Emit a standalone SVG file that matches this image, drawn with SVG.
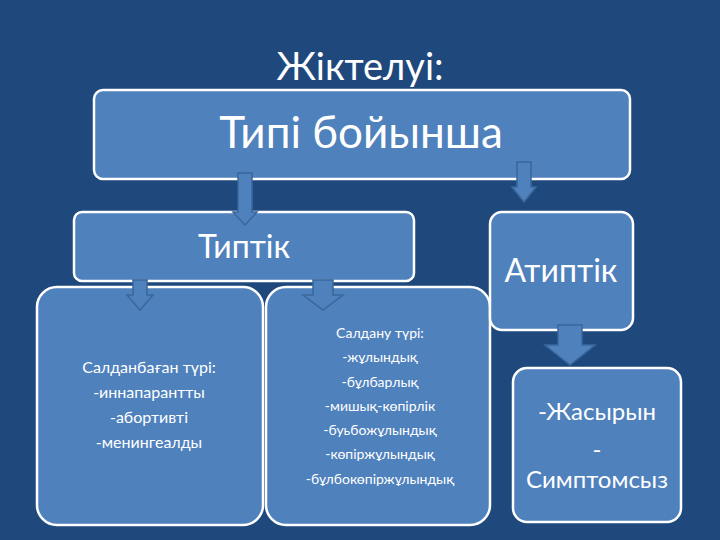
<svg xmlns="http://www.w3.org/2000/svg" width="720" height="540" viewBox="0 0 720 540">
<defs>
<style>
.bg{fill:#1f497d}
.box{fill:#4f81bd;stroke:#ffffff;stroke-width:2.5}
.arr{fill:#4f81bd;stroke:#3a679c;stroke-width:1.5;stroke-linejoin:miter}
text{font-family:Lato,"Liberation Sans","DejaVu Sans",sans-serif;fill:#ffffff;text-anchor:middle}
.t1{font-size:38px}
.t2{font-size:44px}
.t3{font-size:32px}
.t4{font-size:16px}
.t5{font-size:14px}
.t6{font-size:24px}
</style>
</defs>
<rect class="bg" x="0" y="0" width="720" height="540"/>
<text class="t1" x="360" y="80">Жіктелуі:</text>
<g id="node-top">
<rect class="box" x="94" y="90" width="536" height="89" rx="9"/>
<text class="t2" x="361" y="148">Типі бойынша</text>
</g>
<g id="node-tiptik">
<rect class="box" x="74" y="212" width="340" height="69" rx="8"/>
<text class="t3" x="244" y="258">Типтік</text>
</g>
<g id="node-saldanbagan">
<rect class="box" x="37" y="287" width="226" height="238" rx="20"/>
<text class="t4" x="149" y="373">Салданбаған түрі:</text>
<text class="t4" x="149" y="398">-иннапарантты</text>
<text class="t4" x="149" y="423">-абортивті</text>
<text class="t4" x="149" y="448">-менингеалды</text>
</g>
<g id="node-saldanu">
<rect class="box" x="266" y="287" width="224" height="238" rx="20"/>
<text class="t5" x="380" y="338">Салдану түрі:</text>
<text class="t5" x="380" y="362">-жұлындық</text>
<text class="t5" x="380" y="387">-бұлбарлық</text>
<text class="t5" x="380" y="411">-мишық-көпірлік</text>
<text class="t5" x="380" y="435">-буьбожұлындық</text>
<text class="t5" x="380" y="459">-көпіржұлындық</text>
<text class="t5" x="380" y="484">-бұлбокөпіржұлындық</text>
</g>
<g id="node-atiptik">
<rect class="box" x="490" y="212" width="143" height="118" rx="12"/>
<text class="t3" x="561" y="282">Атиптік</text>
</g>
<g id="node-jasyryn">
<rect class="box" x="513" y="368" width="168" height="154" rx="14"/>
<text class="t6" x="597" y="420">-Жасырын</text>
<text class="t6" x="597" y="458">-</text>
<text class="t6" x="597" y="488">Симптомсыз</text>
</g>
<g id="connectors">
<path class="arr" d="M238,173 H252 V212 H257 L245,225 L233,212 H238 Z"/>
<path class="arr" d="M517,162 H531 V187 H536 L524,202 L512,187 H517 Z"/>
<path class="arr" d="M133,280 H147 V295 H153 L140,310 L127,295 H133 Z"/>
<path class="arr" d="M313,280 H333 V295 H343 L323,310 L303,295 H313 Z"/>
<path class="arr" d="M558,325 H582 V345 H595 L570,365 L545,345 H558 Z"/>
</g>
</svg>
